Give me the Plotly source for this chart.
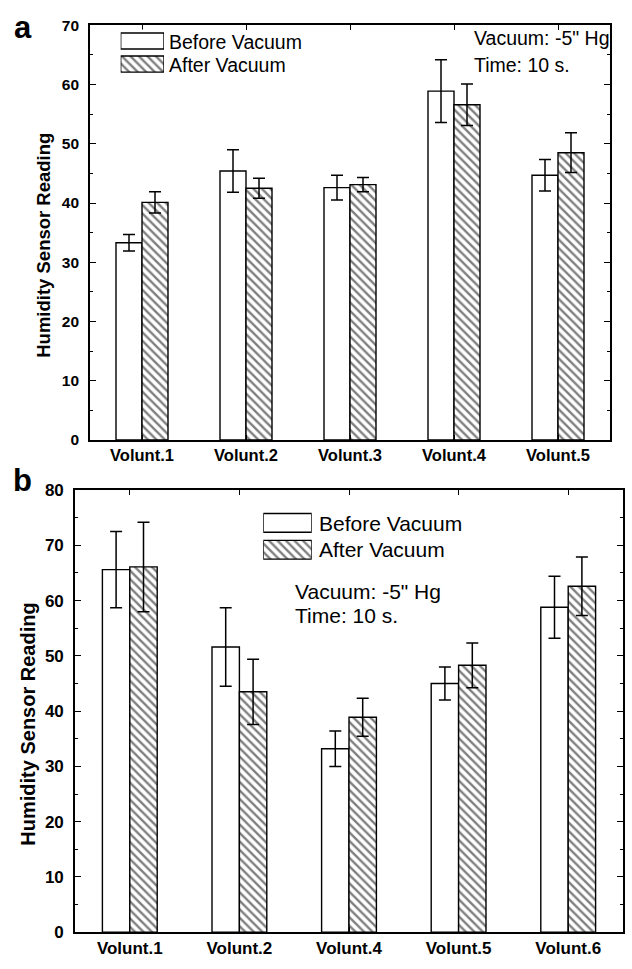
import plotly.graph_objects as go

W, H = 632, 969

# ---------------- data ----------------
cats_a = ["Volunt.1", "Volunt.2", "Volunt.3", "Volunt.4", "Volunt.5"]
before_a = [33.3, 45.4, 42.6, 58.9, 44.7]
before_a_err = [1.4, 3.6, 2.1, 5.3, 2.65]
after_a = [40.1, 42.5, 43.1, 56.6, 48.5]
after_a_err = [1.8, 1.7, 1.2, 3.5, 3.35]

cats_b = ["Volunt.1", "Volunt.2", "Volunt.4", "Volunt.5", "Volunt.6"]
before_b = [65.6, 51.6, 33.2, 45.0, 58.8]
before_b_err = [6.9, 7.1, 3.2, 3.0, 5.6]
after_b = [66.1, 43.5, 38.9, 48.3, 62.6]
after_b_err = [8.1, 5.9, 3.45, 4.05, 5.3]

series_names = ["Before Vacuum", "After Vacuum"]
legend_keys = ["Before", "After"]
legend_fill = [1, 1]

FONT = "Liberation Sans, Arial, Helvetica, sans-serif"


def px_x(p):
    return p / W


def px_y(p):
    return 1 - p / H


PAT = dict(shape="\\", fgcolor="black", bgcolor="white", size=6, solidity=0.4)

fig = go.Figure()


def add_panel(cats, bef, bef_err, aft, aft_err, xa, ya):
    fig.add_trace(go.Bar(
        x=cats, y=bef, name=series_names[0], xaxis=xa, yaxis=ya,
        marker=dict(color="white", line=dict(color="black", width=1.4)),
        error_y=dict(type="data", array=bef_err, color="black", thickness=1.5, width=6),
        showlegend=False,
    ))
    fig.add_trace(go.Bar(
        x=cats, y=aft, name=series_names[1], xaxis=xa, yaxis=ya,
        marker=dict(color="white", line=dict(color="black", width=1.4), pattern=PAT),
        error_y=dict(type="data", array=aft_err, color="black", thickness=1.5, width=6),
        showlegend=False,
    ))


add_panel(cats_a, before_a, before_a_err, after_a, after_a_err, "x", "y")
add_panel(cats_b, before_b, before_b_err, after_b, after_b_err, "x2", "y2")

# legend swatches (drawn as bars on small hidden axes)
for xa, ya in (("x3", "y3"), ("x4", "y4")):
    fig.add_trace(go.Bar(
        x=legend_fill, y=legend_keys, orientation="h", xaxis=xa, yaxis=ya,
        width=0.7,
        marker=dict(color="white", line=dict(color="black", width=1.4),
                    pattern=dict(shape=["", "\\"], fgcolor="black", bgcolor="white",
                                 size=6, solidity=0.4)),
        showlegend=False, hoverinfo="skip",
    ))


def xaxis_cfg(dom, anchor, fs):
    return dict(
        domain=dom, anchor=anchor, type="category", range=[-0.5, 4.5],
        showline=True, linecolor="black", linewidth=1.6, mirror="ticks",
        ticks="inside", ticklen=5, tickwidth=1.4, tickcolor="black",
        tickfont=dict(family=FONT, size=fs, color="black", weight="bold"),
        showgrid=False, zeroline=False, fixedrange=True,
    )


def yaxis_cfg(dom, anchor, rng, fs):
    return dict(
        domain=dom, anchor=anchor, range=rng, dtick=10,
        showline=True, linecolor="black", linewidth=1.6, mirror="ticks",
        ticks="inside", ticklen=6, tickwidth=1.4, tickcolor="black",
        minor=dict(ticks="inside", ticklen=3.5, dtick=5, tickwidth=1.3, tickcolor="black"),
        tickfont=dict(family=FONT, size=fs, color="black", weight="bold"),
        ticklabelstandoff=6,
        showgrid=False, zeroline=False, fixedrange=True,
    )


hidden = dict(visible=False, showgrid=False, zeroline=False, fixedrange=True)

fig.update_layout(
    width=W, height=H,
    margin=dict(l=0, r=0, t=0, b=0),
    paper_bgcolor="white", plot_bgcolor="white",
    barmode="group", bargap=0.5, bargroupgap=0,
    showlegend=False,
    font=dict(family=FONT, color="black"),
    xaxis=xaxis_cfg([px_x(90), px_x(610)], "y", 16.5),
    yaxis=yaxis_cfg([px_y(439.5), px_y(16.7)], "x", [0, 70], 15.5),
    xaxis2=xaxis_cfg([px_x(75), px_x(623)], "y2", 17),
    yaxis2=yaxis_cfg([px_y(941.7), px_y(490.7)], "x2", [0, 80], 17),
    xaxis3=dict(domain=[px_x(120.7), px_x(164)], anchor="y3", range=[0, 1], **hidden),
    yaxis3=dict(domain=[px_y(67.9), px_y(20.9)], anchor="x3", type="category",
                range=[1.5, -0.5], **hidden),
    xaxis4=dict(domain=[px_x(263.3), px_x(311.7)], anchor="y4", range=[0, 1], **hidden),
    yaxis4=dict(domain=[px_y(565.2), px_y(510.5)], anchor="x4", type="category",
                range=[1.5, -0.5], **hidden),
)

ann = []


def text(x, y, s, size, bold=False, xanchor="left", angle=0):
    ann.append(dict(
        x=px_x(x), y=px_y(y), xref="paper", yref="paper", text=s, showarrow=False,
        xanchor=xanchor, yanchor="middle", textangle=angle,
        font=dict(family=FONT, size=size, color="black", weight="bold" if bold else "normal"),
    ))


# panel labels
text(23, 19, "a", 31, bold=True, xanchor="center")
text(22.5, 481, "b", 31, bold=True, xanchor="center")

# y titles
text(43.5, 241, "Humidity Sensor Reading", 18.5, bold=True, xanchor="center", angle=-90)
text(28, 730, "Humidity Sensor Reading", 20, bold=True, xanchor="center", angle=-90)

# legend texts
text(167, 34, series_names[0], 19.5)
text(167, 57.5, series_names[1], 19.5)
text(317, 525, series_names[0], 21)
text(317, 551.5, series_names[1], 21)

# condition notes
text(472, 30, 'Vacuum: -5" Hg', 19.5)
text(472, 57, "Time: 10 s.", 19.5)
text(293, 594, 'Vacuum: -5" Hg', 21)
text(293, 619, "Time: 10 s.", 21)

fig.update_layout(annotations=ann)

fig.write_html("out.html")
